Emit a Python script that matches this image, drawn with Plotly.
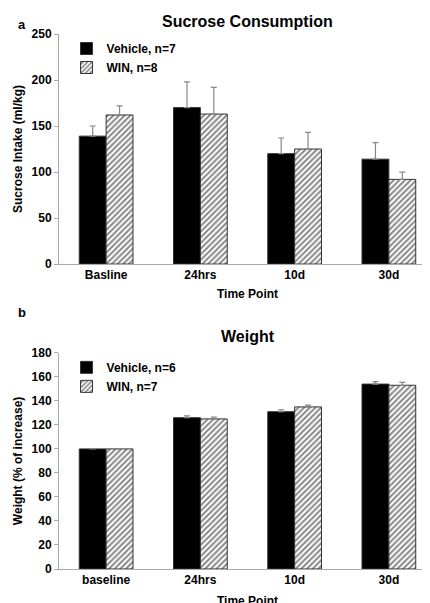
import plotly.graph_objects as go

# panel a: sucrose consumption
sucrose_cats = ['Basline', '24hrs', '10d', '30d']
sucrose_vehicle = [139, 170, 120, 114]
sucrose_vehicle_err = [11, 28, 17, 18]
sucrose_win = [162, 163, 125, 92]
sucrose_win_err = [10, 29, 18, 8]

# panel b: weight
weight_cats = ['baseline', '24hrs', '10d', '30d']
weight_vehicle = [100, 126, 131, 154]
weight_vehicle_err = [0, 1.5, 1.5, 2]
weight_win = [100, 125, 135, 153]
weight_win_err = [0, 1.5, 1.5, 2.5]

FONT = 'Liberation Sans, Arial, sans-serif'
err_style = dict(type='data', symmetric=False, color='#888', thickness=1.2, width=3)


def bars(cats, vals, errs, name, pattern, xa, ya, legend):
    return go.Bar(
        x=cats, y=vals, name=name, xaxis=xa, yaxis=ya, legend=legend,
        marker=dict(color='black' if not pattern else 'white',
                    line=dict(color='#333', width=1),
                    pattern=dict(shape=pattern, fgcolor='#111', size=4, solidity=0.5) if pattern else None),
        error_y=dict(array=errs, arrayminus=[0] * len(errs), **err_style),
    )


fig = go.Figure()
fig.add_trace(bars(sucrose_cats, sucrose_vehicle, sucrose_vehicle_err, '<b>Vehicle, n=7</b>', '', 'x', 'y', 'legend'))
fig.add_trace(bars(sucrose_cats, sucrose_win, sucrose_win_err, '<b>WIN, n=8</b>', '/', 'x', 'y', 'legend'))
fig.add_trace(bars(weight_cats, weight_vehicle, weight_vehicle_err, '<b>Vehicle, n=6</b>', '', 'x2', 'y2', 'legend2'))
fig.add_trace(bars(weight_cats, weight_win, weight_win_err, '<b>WIN, n=7</b>', '/', 'x2', 'y2', 'legend2'))

axis_font = dict(family=FONT, size=12, color='black', weight='bold')
title_font = dict(family=FONT, size=12, color='black', weight='bold')
xcommon = dict(showline=True, linecolor='#aaa', ticks='outside', ticklen=0,
               tickfont=axis_font, showgrid=False)
ycommon = dict(showline=True, linecolor='#aaa', ticks='outside', ticklen=4, tickcolor='#aaa',
               tickfont=axis_font, showgrid=False, zeroline=False)

leg = dict(x=0.02, xanchor='left', bgcolor='rgba(0,0,0,0)', font=dict(family=FONT, size=12, color='black'),
           tracegroupgap=2, itemwidth=30)

fig.update_layout(
    width=430, height=603,
    margin=dict(l=51, r=2, t=26, b=42),
    plot_bgcolor='white', paper_bgcolor='white',
    barmode='group', bargap=0.43, bargroupgap=0,
    font=dict(family=FONT, color='black'),
    xaxis=dict(domain=[0, 1], anchor='y', **xcommon,
               title=dict(text='Time Point', font=title_font, standoff=8)),
    yaxis=dict(domain=[0.57, 1], anchor='x', range=[0, 250], dtick=50, **ycommon,
               title=dict(text='Sucrose Intake (ml/kg)', font=title_font, standoff=6)),
    xaxis2=dict(domain=[0, 1], anchor='y2', **xcommon,
                title=dict(text='Time Point', font=title_font, standoff=10)),
    yaxis2=dict(domain=[0, 0.404], anchor='x2', range=[0, 180], dtick=20, **ycommon,
                title=dict(text='Weight (% of increase)', font=title_font, standoff=6)),
    legend=dict(y=1.0, yanchor='top', **leg),
    legend2=dict(y=0.404, yanchor='top', **leg),
    annotations=[
        dict(text='<b>Sucrose Consumption</b>', x=0.5, y=1.0, xref='paper', yref='paper', yanchor='bottom',
             yshift=2, showarrow=False, font=dict(family=FONT, size=16, color='black')),
        dict(text='<b>Weight</b>', x=0.5, y=0.404, xref='paper', yref='paper', yanchor='bottom',
             yshift=6, showarrow=False, font=dict(family=FONT, size=16, color='black')),
        dict(text='<b>a</b>', x=-0.115, y=1.035, xref='paper', yref='paper', showarrow=False,
             xanchor='left', font=dict(family=FONT, size=13, color='black')),
        dict(text='<b>b</b>', x=-0.115, y=0.48, xref='paper', yref='paper', showarrow=False,
             xanchor='left', font=dict(family=FONT, size=13, color='black')),
    ],
)

fig.write_html('out.html')
